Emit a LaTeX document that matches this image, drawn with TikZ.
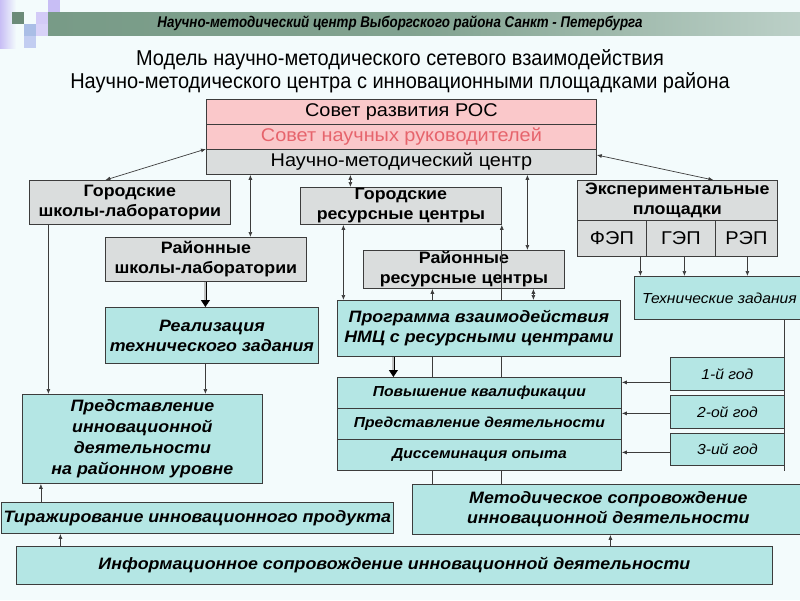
\documentclass[tikz,border=0pt]{standalone}
\usepackage{fontspec}
\setmainfont{Liberation Sans}
\newfontfamily\narrowfont[FakeStretch=0.93]{Liberation Sans}
\newfontfamily\hdrfont[FakeStretch=0.86]{Liberation Sans}
\newfontfamily\boxfont[FakeStretch=1.08]{Liberation Sans}
\usetikzlibrary{arrows.meta,calc}
\definecolor{bgc}{RGB}{243,251,252}
\definecolor{grayfill}{RGB}{218,221,221}
\definecolor{cyanfill}{RGB}{180,230,228}
\definecolor{pinkfill}{RGB}{250,200,202}
\definecolor{redtext}{RGB}{230,100,108}
\definecolor{hdr}{RGB}{120,155,135}
\definecolor{edge}{RGB}{60,60,60}
\definecolor{lav}{RGB}{200,190,245}
\definecolor{lavb}{RGB}{170,190,230}
\newcommand{\mybox}[7]{\node[box,#6,minimum width=#4pt,minimum height=#5pt] (#1) at (#2,#3) {#7};}
\tikzset{
  box/.style={draw=edge, line width=0.8pt, rectangle, inner sep=0pt, align=center, anchor=north west},
  grayb/.style={fill=grayfill, font=\boxfont\fontsize{16.5}{20}\selectfont\bfseries},
  cyanb/.style={fill=cyanfill, font=\boxfont\fontsize{16.5}{20}\selectfont\bfseries\itshape},
  cyans/.style={fill=cyanfill, font=\boxfont\fontsize{14.5}{16}\selectfont\bfseries\itshape},
  cyani/.style={fill=cyanfill, font=\boxfont\fontsize{14.5}{16}\selectfont\itshape},
  topb/.style={font=\boxfont\fontsize{18.4}{20}\selectfont},
  cellb/.style={fill=grayfill, font=\boxfont\fontsize{18.5}{20}\selectfont},
  tip/.tip={Latex[length=5pt,width=4pt]},
  dbl/.style={draw=edge, line width=0.7pt, tip-tip},
  arr/.style={draw=edge, line width=0.7pt, -tip},
  ln/.style={draw=edge, line width=0.7pt},
  fat/.style={draw=black, line width=0.8pt, double=grayfill!70!gray, double distance=2pt, -{Triangle[length=7pt,width=9pt]}},
}
\begin{document}
\begin{tikzpicture}[x=1pt,y=-1pt]
\path[fill=bgc] (0,0) rectangle (800,600);
\useasboundingbox (0,0) rectangle (800,600);
% decoration
\shade[left color=lav, right color=bgc] (0,0) rectangle (16,48);
\fill[lav] (48,0) rectangle (60,12);
\fill[lav!80] (36,12) rectangle (48,24);
\fill[lavb] (24,24) rectangle (36,36);
\fill[lavb!90!blue!60] (24,36) rectangle (36,48);
\fill[lav!70] (36,24) rectangle (48,36);
\shade[left color=hdr, right color=hdr!45!bgc, middle color=hdr!92!bgc] (48,12) rectangle (800,35);
\fill[hdr!90!black] (12,12) rectangle (24,24);
\node[font=\hdrfont\fontsize{15.5}{17}\selectfont\bfseries\itshape] (hdrtext) at (400,23) {Научно-методический центр Выборгского района Санкт - Петербурга};
% titles
\node[font=\narrowfont\fontsize{21.5}{24}\selectfont] (t1) at (400,60) {Модель научно-методического сетевого взаимодействия};
\node[font=\narrowfont\fontsize{21.5}{24}\selectfont] (t2) at (400,83) {Научно-методического центра с инновационными площадками района};
% top block
\mybox{r1}{206}{99}{390}{25}{fill=pinkfill,topb}{Совет развития РОС}
\mybox{r2}{206}{124}{390}{25}{fill=pinkfill,topb,text=redtext}{Совет научных руководителей}
\mybox{r3}{206}{149}{390}{25}{fill=grayfill,topb}{Научно-методический центр}
% gray boxes
\mybox{gsl}{29}{180}{201}{44}{grayb}{Городские\\школы-лаборатории}
\mybox{rsl}{105}{237}{201}{44}{grayb}{Районные\\школы-лаборатории}
\mybox{grc}{300}{187}{201}{37}{grayb}{Городские\\ресурсные центры}
\mybox{rrc}{363}{250}{201}{38}{grayb}{Районные\\ресурсные центры}
\mybox{exp}{577}{180}{200}{40}{grayb}{Экспериментальные\\площадки}
\mybox{fep}{577}{220}{69}{36}{cellb}{ФЭП}
\mybox{gep}{646}{220}{69}{36}{cellb}{ГЭП}
\mybox{rep}{715}{220}{62}{36}{cellb}{РЭП}
% cyan boxes
\mybox{tz}{634}{276}{170}{43}{cyani}{Технические задания}
\mybox{real}{105}{307}{213}{56}{cyanb}{Реализация\\технического задания}
\mybox{prog}{337}{300}{283}{56}{cyanb}{Программа взаимодействия\\НМЦ с ресурсными центрами}
\mybox{s1}{337}{377}{284}{31}{cyans}{Повышение квалификации}
\mybox{s2}{337}{408}{284}{31}{cyans}{Представление деятельности}
\mybox{s3}{337}{439}{284}{31}{cyans}{Диссеминация опыта}
\mybox{y1}{670}{357}{114}{33}{cyani}{1-й год}
\mybox{y2}{670}{395}{114}{33}{cyani}{2-ой год}
\mybox{y3}{670}{433}{114}{32}{cyani}{3-ий год}
\mybox{pred}{22}{394}{240}{89}{cyanb,font=\boxfont\fontsize{16.5}{21}\selectfont\bfseries\itshape}{Представление\\инновационной\\деятельности\\на районном уровне}
\mybox{tir}{1}{502}{392}{31}{cyanb}{Тиражирование инновационного продукта}
\mybox{met}{412}{484}{392}{50}{cyanb}{Методическое сопровождение\\инновационной деятельности}
\mybox{inf}{16}{546}{756}{38}{cyanb}{Информационное сопровождение инновационной деятельности}
% helper coordinates
\coordinate (c1) at ([yshift=-8.5pt]y1.west);
\coordinate (c2) at ([yshift=-1.5pt]y2.west);
\coordinate (c3) at ([yshift=-3pt]y3.west);
% connectors
\draw[dbl] (r3.north west) -- ([xshift=-24.5pt]gsl.north);
\draw[dbl] ([xshift=44.5pt]rsl.north) -- ([xshift=44.5pt]rsl.north |- r3.south);
\draw[dbl] ([xshift=-50.5pt]grc.north) -- ([xshift=-50.5pt]grc.north |- r3.south);
\draw[dbl] ([xshift=63.5pt]rrc.north) -- ([xshift=63.5pt]rrc.north |- r3.south);
\draw[dbl] ([yshift=-6pt]r3.north east) -- ([xshift=36pt]exp.north);
\draw[arr] ([xshift=28.5pt]fep.south) -- ([xshift=28.5pt]fep.south |- tz.north);
\draw[arr] ([xshift=3.5pt]gep.south) -- ([xshift=3.5pt]gep.south |- tz.north);
\draw[arr] ([xshift=1pt]rep.south) -- ([xshift=1pt]rep.south |- tz.north);
\draw[fat] ([xshift=-0.5pt]rsl.south) -- ([xshift=-0.5pt]rsl.south |- real.north);
\draw[arr] ([xshift=-81.5pt]gsl.south) -- ([xshift=-81.5pt]gsl.south |- pred.north);
\draw[arr] ([xshift=-6.5pt]real.south) -- ([xshift=-6.5pt]real.south |- pred.north);
\draw[dbl] ([xshift=-57.5pt]grc.south) -- ([xshift=-57.5pt]grc.south |- prog.north);
\draw[arr] (grc.south east |- prog.north) -- (grc.south east);
\draw[ln] (grc.south east |- prog.south) -- (grc.south east |- s1.north);
\draw[ln] (grc.south east |- s3.south) -- (grc.south east |- met.north);
\draw[arr] ([xshift=-31.5pt]rrc.south |- prog.north) -- ([xshift=-31.5pt]rrc.south);
\draw[ln] ([xshift=-31.5pt]rrc.south |- prog.south) -- ([xshift=-31.5pt]rrc.south |- s1.north);
\draw[ln] ([xshift=-31.5pt]rrc.south |- s3.south) -- ([xshift=-31.5pt]rrc.south |- met.north);
\draw[dbl] ([xshift=69.5pt]rrc.south) -- ([xshift=69.5pt]rrc.south |- prog.north);
\draw[fat] ([xshift=-85.5pt]prog.south) -- ([xshift=-85.5pt]prog.south |- s1.north);
\draw[arr] (c1) -- (s1.east |- c1);
\draw[arr] (c2) -- (s2.east |- c2);
\draw[arr] (c3) -- (s3.east |- c3);
\draw[ln] (tz.south -| y1.east) -- ([yshift=-5pt]y3.south east);
\draw[arr] ([xshift=-156.5pt]tir.north) -- ([xshift=-156.5pt]tir.north |- pred.south);
\draw[arr] ([xshift=-334pt]inf.north) -- ([xshift=-334pt]inf.north |- tir.south);
\draw[arr] ([xshift=216pt]inf.north) -- ([xshift=216pt]inf.north |- met.south);
\end{tikzpicture}
\end{document}
